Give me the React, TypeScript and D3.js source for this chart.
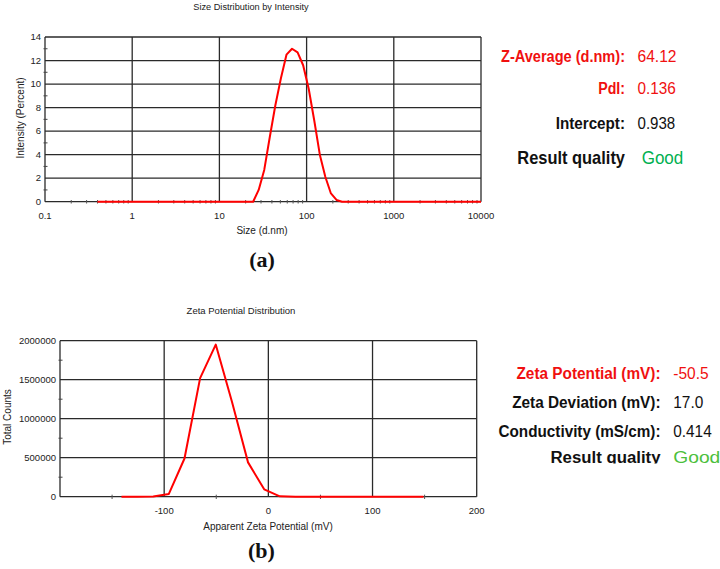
import React from "react";
import * as d3 from "d3";

// ---------- data (a) ----------
const sizeNm = [0.4, 21.04, 24.36, 28.21, 32.67, 37.84, 43.82, 50.75, 58.77, 68.06, 78.82, 91.28, 105.7, 122.4, 141.8, 164.2, 190.1, 220.2, 255.0, 10000];
const intensityPct = [0, 0, 0, 1.0, 2.7, 5.5, 8.2, 10.5, 12.5, 13.0, 12.7, 11.6, 9.6, 6.9, 4.0, 2.1, 0.7, 0.15, 0, 0];
const sizeTicks = [0.1, 1, 10, 100, 1000, 10000];
const sizeTickLabels = ["0.1", "1", "10", "100", "1000", "10000"];
const intensityTicks = [0, 2, 4, 6, 8, 10, 12, 14];
const intensityMinor = [1, 3, 5, 7, 9, 11, 13];

// ---------- data (b) ----------
const zetaMv = [-141, -126, -110.5, -95.5, -80.5, -65.5, -50.5, -35, -19.5, -4, 11, 26, 149];
const zetaCounts = [0, 0, 3000, 35000, 490000, 1520000, 1950000, 1220000, 440000, 95000, 5000, 0, 0];
const zetaXTicks = [-200, -100, 0, 100, 200];
const zetaXLabels = ["", "-100", "0", "100", "200"];
const zetaXMinor = [-150, -50, 50, 150];
const countTicks = [0, 500000, 1000000, 1500000, 2000000];
const countMinor = [250000, 750000, 1250000, 1750000];

// ---------- stats ----------
const statsA = [
  { label: "Z-Average (d.nm):", value: "64.12", color: "#f01010", valColor: "#f01010" },
  { label: "PdI:", value: "0.136", color: "#f01010", valColor: "#f01010" },
  { label: "Intercept:", value: "0.938", color: "#111", valColor: "#111" },
  { label: "Result quality", value: "Good", color: "#111", valColor: "#00b050" },
];
const statsB = [
  { label: "Zeta Potential (mV):", value: "-50.5", color: "#f01010", valColor: "#f01010" },
  { label: "Zeta Deviation (mV):", value: "17.0", color: "#111", valColor: "#111" },
  { label: "Conductivity (mS/cm):", value: "0.414", color: "#111", valColor: "#111" },
  { label: "Result quality", value: "Good", color: "#111", valColor: "#4cbf3c" },
];

const FONT = "'Liberation Sans', Arial, sans-serif";
const GRID = "#2a2a2a";

export default function App() {
  // Chart (a)
  const ax = d3.scaleLog().domain([0.1, 10000]).range([45, 481]);
  const ay = d3.scaleLinear().domain([0, 14]).range([201.7, 37]);
  const aLine = d3
    .line<number>()
    .x((_, i) => ax(sizeNm[i]))
    .y((d) => ay(d));
  const aMinor: number[] = [];
  [0.1, 1, 10, 100, 1000].forEach((dec) => {
    for (let k = 2; k <= 9; k++) aMinor.push(dec * k);
  });

  // Chart (b)
  const bx = d3.scaleLinear().domain([-200, 200]).range([60, 476.7]);
  const by = d3.scaleLinear().domain([0, 2000000]).range([496.7, 340.7]);
  const bLine = d3
    .line<number>()
    .x((_, i) => bx(zetaMv[i]))
    .y((d) => by(d));

  const statA_labelW = [124, 26.7, 69.3, 107.7];
  const statA_valW = [39, 38.3, 37.7, 41.6];
  const statA_base = [61.7, 94.3, 129, 164.3];
  const statA_size = [16, 16, 16, 18.5];

  const statB_labelW = [144, 148.3, 162, 110];
  const statB_valW = [35.3, 30, 38.4, 47];
  const statB_base = [379, 407.7, 436.7, 463.3];

  return (
    <svg
      width={720}
      height={569}
      style={{ position: "absolute", left: 0, top: 0, background: "#fff" }}
      fontFamily={FONT}
    >
      <rect x={0} y={0} width={720} height={569} fill="#fff" />
      <defs>
        <clipPath id="clipB">
          <rect x={0} y={0} width={720} height={463.6} />
        </clipPath>
      </defs>

      {/* ===== Chart (a) ===== */}
      <text x={251} y={10} fontSize={9.2} textAnchor="middle" fill="#222">
        Size Distribution by Intensity
      </text>
      {intensityTicks.map((t) => (
        <line key={"ah" + t} x1={45} x2={481} y1={ay(t)} y2={ay(t)} stroke={GRID} strokeWidth={1.3} />
      ))}
      {sizeTicks.map((t) => (
        <line key={"av" + t} x1={ax(t)} x2={ax(t)} y1={37} y2={201.7} stroke={GRID} strokeWidth={1.3} />
      ))}
      {aMinor.map((t, i) => (
        <line key={"am" + i} x1={ax(t)} x2={ax(t)} y1={200} y2={203.5} stroke="#555" strokeWidth={1} />
      ))}
      {intensityMinor.map((t) => (
        <line key={"aym" + t} x1={43.5} x2={47.5} y1={ay(t)} y2={ay(t)} stroke="#444" strokeWidth={1} />
      ))}
      {intensityTicks.map((t) => (
        <text key={"ayl" + t} x={41} y={ay(t)} dy="0.35em" fontSize={9.5} textAnchor="end" fill="#222">
          {t}
        </text>
      ))}
      {sizeTicks.map((t, i) => (
        <text key={"axl" + t} x={ax(t)} y={219} fontSize={9.5} textAnchor="middle" fill="#222">
          {sizeTickLabels[i]}
        </text>
      ))}
      <text x={262} y={234} fontSize={10} textAnchor="middle" fill="#222">
        Size (d.nm)
      </text>
      <text
        transform="translate(20,118) rotate(-90)"
        fontSize={10}
        textAnchor="middle"
        dy="0.35em"
        fill="#222"
      >
        Intensity (Percent)
      </text>
      <path d={aLine(intensityPct) || ""} fill="none" stroke="#ff0000" strokeWidth={2} strokeLinejoin="round" />
      <text x={262} y={267} fontSize={22} fontWeight="bold" textAnchor="middle" fontFamily="'Liberation Serif', 'Times New Roman', serif" fill="#111">
        (a)
      </text>

      {statsA.map((s, i) => (
        <g key={"sa" + i}>
          <text
            x={625}
            y={statA_base[i]}
            fontSize={statA_size[i]}
            fontWeight="bold"
            textAnchor="end"
            fill={s.color}
            textLength={statA_labelW[i]}
            lengthAdjust="spacingAndGlyphs"
          >
            {s.label}
          </text>
          <text
            x={i === 3 ? 641.7 : 637.5}
            y={statA_base[i]}
            fontSize={statA_size[i]}
            fill={s.valColor}
            textLength={statA_valW[i]}
            lengthAdjust="spacingAndGlyphs"
          >
            {s.value}
          </text>
        </g>
      ))}

      {/* ===== Chart (b) ===== */}
      <text x={241} y={314} fontSize={9.5} textAnchor="middle" fill="#222">
        Zeta Potential Distribution
      </text>
      {countTicks.map((t) => (
        <line key={"bh" + t} x1={60} x2={476.7} y1={by(t)} y2={by(t)} stroke={GRID} strokeWidth={1.3} />
      ))}
      {zetaXTicks.map((t) => (
        <line key={"bv" + t} x1={bx(t)} x2={bx(t)} y1={340.7} y2={496.7} stroke={GRID} strokeWidth={1.3} />
      ))}
      {zetaXMinor.map((t) => (
        <line key={"bxm" + t} x1={bx(t)} x2={bx(t)} y1={494.7} y2={499} stroke="#555" strokeWidth={1} />
      ))}
      {countMinor.map((t) => (
        <line key={"bym" + t} x1={58.5} x2={62.5} y1={by(t)} y2={by(t)} stroke="#444" strokeWidth={1} />
      ))}
      {countTicks.map((t) => (
        <text key={"byl" + t} x={56} y={by(t)} dy="0.35em" fontSize={9.5} textAnchor="end" fill="#222">
          {t}
        </text>
      ))}
      {zetaXTicks.map((t, i) => (
        <text key={"bxl" + t} x={bx(t)} y={513.5} fontSize={9.5} textAnchor="middle" fill="#222">
          {zetaXLabels[i]}
        </text>
      ))}
      <text x={268} y={530} fontSize={10} textAnchor="middle" fill="#222">
        Apparent Zeta Potential (mV)
      </text>
      <text
        transform="translate(7.5,417) rotate(-90)"
        fontSize={10}
        textAnchor="middle"
        dy="0.35em"
        fill="#222"
      >
        Total Counts
      </text>
      <path d={bLine(zetaCounts) || ""} fill="none" stroke="#ff0000" strokeWidth={2} strokeLinejoin="round" />
      <text x={261.5} y={557.5} fontSize={22} fontWeight="bold" textAnchor="middle" fontFamily="'Liberation Serif', 'Times New Roman', serif" fill="#111">
        (b)
      </text>

      <g clipPath="url(#clipB)">
        {statsB.map((s, i) => (
          <g key={"sb" + i}>
            <text
              x={660.5}
              y={statB_base[i]}
              fontSize={16}
              fontWeight="bold"
              textAnchor="end"
              fill={s.color}
              textLength={statB_labelW[i]}
              lengthAdjust="spacingAndGlyphs"
            >
              {s.label}
            </text>
            <text
              x={673.3}
              y={statB_base[i]}
              fontSize={16}
              fill={s.valColor}
              textLength={statB_valW[i]}
              lengthAdjust="spacingAndGlyphs"
            >
              {s.value}
            </text>
          </g>
        ))}
      </g>
    </svg>
  );
}
